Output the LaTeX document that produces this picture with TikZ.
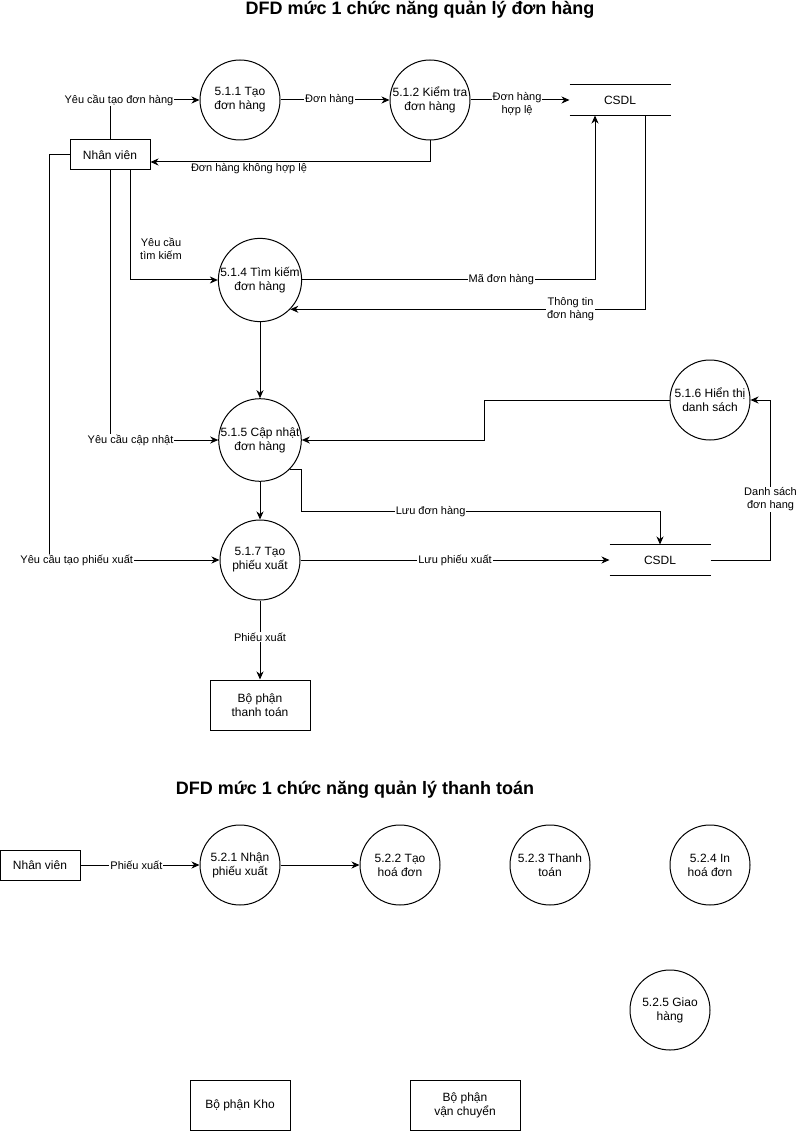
\documentclass[tikz,border=0pt]{standalone}
\usepackage{fontspec}
\setmainfont{Liberation Sans}
\usepackage{tikz}
\usetikzlibrary{arrows.meta}

\begin{document}
\begin{tikzpicture}[x=1pt,y=1pt,line width=1pt,
		proc/.style={draw,circle,minimum size=80pt,inner sep=0pt,align=center,font=\fontsize{12}{14}\selectfont},
		ent/.style={draw,rectangle,inner sep=0pt,align=center,font=\fontsize{12}{14}\selectfont},
		store/.style={inner sep=0pt,minimum width=100pt,minimum height=30pt,font=\fontsize{12}{14}\selectfont},
		lbl/.style={fill=white,inner sep=1pt,align=center,font=\fontsize{11}{13}\selectfont},
		flow/.style={-{Stealth[length=8pt,width=7pt,inset=2.5pt]}},
		heading/.style={font=\fontsize{18}{22}\selectfont\bfseries}]
		\useasboundingbox (0,0) rectangle (798,-1131);
		% quan ly don hang
		\node[heading] (title1) at (420,-10) {DFD mức 1 chức năng quản lý đơn hàng};
		\node[proc] (p511) at (240,-100) {5.1.1 Tạo\\đơn hàng};
		\node[proc] (p512) at (430,-100) {5.1.2 Kiểm tra\\đơn hàng};
		\node[store] (db1) at (620,-100) {CSDL};
		\draw (db1.north west) -- (db1.north east) (db1.south west) -- (db1.south east);
		\node[ent,minimum width=80pt,minimum height=30pt] (nv) at (110,-155) {Nhân viên};
		\node[proc] (p514) at (260,-280) {5.1.4 Tìm kiếm\\đơn hàng};
		\node[proc] (p515) at (260,-440) {5.1.5 Cập nhật\\đơn hàng};
		\node[proc] (p516) at (710,-400) {5.1.6 Hiển thị\\danh sách};
		\node[proc] (p517) at (260,-560) {5.1.7 Tạo\\phiếu xuất};
		\node[store] (db2) at (660,-560) {CSDL};
		\draw (db2.north west) -- (db2.north east) (db2.south west) -- (db2.south east);
		\node[ent,minimum width=100pt,minimum height=50pt] (btt) at (260,-705) {Bộ phận\\thanh toán};
		% luong du lieu
		\draw[flow] (nv.north) |- node[lbl,pos=0.55]{Yêu cầu tạo đơn hàng} (p511.west);
		\draw[flow] (p511.east) -- node[lbl,pos=0.45]{Đơn hàng} (p512.west);
		\draw[flow] (p512.east) -- node[lbl,pos=0.47,yshift=-4.5pt]{Đơn hàng\\hợp lệ} (db1.west);
		\draw[flow] (p512.south) |- ([yshift=-7pt]nv.east);
		\node[lbl] (lkhl) at (249,-169) {Đơn hàng không hợp lệ};
		\draw[flow] ([xshift=20pt]nv.south) |- (p514.west);
		\node[lbl] (ltk) at (161,-249) {Yêu cầu\\tìm kiếm};
		\draw[flow] (p514.east) -| node[lbl,pos=0.34]{Mã đơn hàng} ([xshift=-25pt]db1.south);
		\draw[flow] ([xshift=25pt]db1.south) |- node[lbl,pos=0.605]{Thông tin\\đơn hàng} (p514.-44);
		\draw[flow] (p514.south) -- (p515.north);
		\draw[flow] (nv.south) |- node[lbl,pos=0.595]{Yêu cầu cập nhật} (p515.west);
		\draw[flow] (p516.west) -- ++(-185,0) |- (p515.east);
		\draw[flow] (p515.-45) -| ++(12,-42) -| node[lbl,pos=0.18]{Lưu đơn hàng} (db2.north);
		\draw[flow] (p515.south) -- (p517.north);
		\draw[flow] (nv.west) -- ++(-20,0) |- node[lbl,pos=0.58]{Yêu cầu tạo phiếu xuất} (p517.west);
		\draw[flow] (p517.east) -- node[lbl]{Lưu phiếu xuất} (db2.west);
		\draw[flow] (db2.east) -- ++(60,0) |- node[lbl,pos=0.19]{Danh sách\\đơn hang} (p516.east);
		\draw[flow] (p517.south) -- node[lbl,pos=0.46]{Phiếu xuất} (btt.north);
		% quan ly thanh toan
		\node[heading] (title2) at (355,-790) {DFD mức 1 chức năng quản lý thanh toán};
		\node[ent,minimum width=80pt,minimum height=30pt] (nv2) at (40,-865) {Nhân viên};
		\node[proc] (p521) at (240,-865) {5.2.1 Nhận\\phiếu xuất};
		\node[proc] (p522) at (400,-865) {5.2.2 Tạo\\hoá đơn};
		\node[proc] (p523) at (550,-865) {5.2.3 Thanh\\toán};
		\node[proc] (p524) at (710,-865) {5.2.4 In\\hoá đơn};
		\node[proc] (p525) at (670,-1010) {5.2.5 Giao\\hàng};
		\node[ent,minimum width=100pt,minimum height=50pt] (kho) at (240,-1105) {Bộ phận Kho};
		\node[ent,minimum width=110pt,minimum height=50pt] (vc) at (465,-1105) {Bộ phận\\vận chuyển};
		\draw[flow] (nv2.east) -- node[lbl,pos=0.47]{Phiếu xuất} (p521.west);
		\draw[flow] (p521.east) -- (p522.west);
	\end{tikzpicture}
\end{document}
